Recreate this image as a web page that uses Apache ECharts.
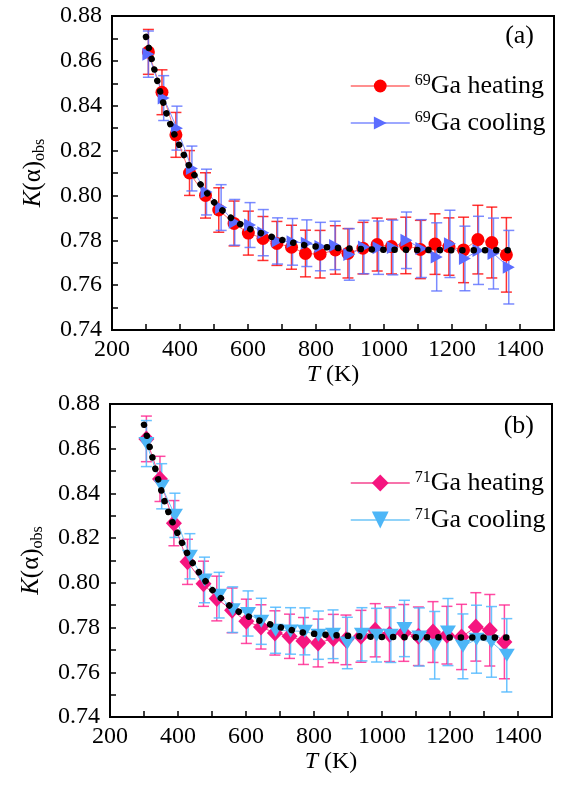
<!DOCTYPE html>
<html>
<head>
<meta charset="utf-8">
<title>K(alpha) obs vs T</title>
<script src="https://cdn.jsdelivr.net/npm/echarts@6/dist/echarts.min.js"></script>
<style>
  html, body { margin: 0; padding: 0; background: #fff; }
  #chart { width: 564px; height: 788px; }
</style>
</head>
<body>
<div id="chart"></div>
<script>
  // temperatures (K) of the measured points
  const tempHeat = [307, 347, 388, 428, 475, 514, 559, 601, 644, 685, 728, 769, 812, 857, 894, 938, 980, 1022, 1064, 1107, 1150, 1191, 1234, 1276, 1317, 1360];
  const tempCool = [307, 352, 391, 435, 478, 521, 561, 606, 645, 687, 731, 773, 813, 856, 898, 941, 984, 1026, 1066, 1110, 1155, 1194, 1238, 1278, 1322, 1367];

  // (a) 69Ga
  const heat69 = [0.864, 0.846, 0.827, 0.810, 0.800, 0.7935, 0.7875, 0.7832, 0.7808, 0.7786, 0.7769, 0.7741, 0.7738, 0.7757, 0.7742, 0.7765, 0.7781, 0.7772, 0.7777, 0.7759, 0.7783, 0.7772, 0.7757, 0.7803, 0.779, 0.7735];
  const heatErr69 = [0.010, 0.010, 0.010, 0.010, 0.0101, 0.0099, 0.010, 0.0098, 0.0098, 0.0098, 0.0098, 0.0104, 0.0106, 0.0108, 0.011, 0.0115, 0.0118, 0.0122, 0.0126, 0.013, 0.0135, 0.0128, 0.0146, 0.0153, 0.0158, 0.0166];
  const cool69 = [0.863, 0.8434, 0.830, 0.812, 0.8015, 0.7946, 0.788, 0.7868, 0.7834, 0.7797, 0.7793, 0.7787, 0.7772, 0.7777, 0.7737, 0.777, 0.7767, 0.7768, 0.780, 0.7763, 0.7726, 0.7784, 0.7719, 0.7755, 0.7741, 0.768];
  const coolErr69 = [0.0103, 0.010, 0.0098, 0.010, 0.0102, 0.0102, 0.0102, 0.010, 0.0103, 0.0103, 0.0104, 0.0104, 0.0108, 0.0108, 0.0115, 0.0119, 0.0119, 0.0122, 0.0126, 0.0129, 0.0152, 0.015, 0.0144, 0.0152, 0.0158, 0.0164];

  // (b) 71Ga
  const heat71 = [0.8644, 0.8465, 0.8267, 0.8094, 0.7996, 0.793, 0.7877, 0.7828, 0.7803, 0.7776, 0.7761, 0.774, 0.7731, 0.7751, 0.7745, 0.7761, 0.7788, 0.777, 0.7776, 0.7761, 0.778, 0.7766, 0.7758, 0.7803, 0.7788, 0.7736];
  const heatErr71 = [0.0102, 0.0101, 0.0101, 0.0101, 0.0101, 0.010, 0.010, 0.0099, 0.0099, 0.0099, 0.0099, 0.0105, 0.0107, 0.0108, 0.0111, 0.0116, 0.0119, 0.0122, 0.0127, 0.0131, 0.0136, 0.0129, 0.0146, 0.0153, 0.016, 0.0165];
  const cool71 = [0.8623, 0.8432, 0.8302, 0.8119, 0.8013, 0.7945, 0.788, 0.7863, 0.7828, 0.7788, 0.7785, 0.7783, 0.7766, 0.777, 0.7731, 0.777, 0.7766, 0.7766, 0.7796, 0.7758, 0.7721, 0.778, 0.7716, 0.7748, 0.7736, 0.7676];
  const coolErr71 = [0.0103, 0.0101, 0.0099, 0.0101, 0.0102, 0.0102, 0.0102, 0.0101, 0.0103, 0.0103, 0.0104, 0.0105, 0.0108, 0.0109, 0.0115, 0.0119, 0.012, 0.0122, 0.0126, 0.013, 0.0151, 0.015, 0.0145, 0.0152, 0.0158, 0.0164];

  // model curve (black dots), same in both panels
  const modelT = [300, 320, 340, 360, 380, 400, 425, 450, 475, 500, 530, 560, 590, 620, 650, 680, 720, 760, 800, 850, 900, 950, 1000, 1100, 1200, 1300, 1380];
  const modelK = [0.8707, 0.8589, 0.8472, 0.8367, 0.8285, 0.8218, 0.8138, 0.8072, 0.802, 0.797, 0.7926, 0.7888, 0.7862, 0.7841, 0.7826, 0.781, 0.7794, 0.778, 0.7772, 0.7767, 0.7763, 0.776, 0.7758, 0.7757, 0.7756, 0.7756, 0.7756];

  const xTicks = [200, 400, 600, 800, 1000, 1200, 1400];

  const FONT = '"Liberation Serif", "Times New Roman", serif';
  const chart = echarts.init(document.getElementById('chart'));

  function pairs(xs, ys) {
    return xs.map(function (x, i) { return [x, ys[i]]; });
  }
  function errData(xs, ys, es) {
    return xs.map(function (x, i) { return [x, ys[i] - es[i], ys[i] + es[i]]; });
  }

  // vertical error bar with caps
  function errSeries(idx, xs, ys, es, color) {
    return {
      type: 'custom',
      xAxisIndex: idx,
      yAxisIndex: idx,
      silent: true,
      z: 1,
      clip: true,
      data: errData(xs, ys, es),
      encode: { x: 0, y: [1, 2] },
      renderItem: function (params, api) {
        const top = api.coord([api.value(0), api.value(2)]);
        const bot = api.coord([api.value(0), api.value(1)]);
        const w = 5.5;
        const st = { stroke: color, lineWidth: 1.5 };
        return {
          type: 'group',
          children: [
            { type: 'line', shape: { x1: top[0], y1: top[1], x2: bot[0], y2: bot[1] }, style: st },
            { type: 'line', shape: { x1: top[0] - w, y1: top[1], x2: top[0] + w, y2: top[1] }, style: st },
            { type: 'line', shape: { x1: bot[0] - w, y1: bot[1], x2: bot[0] + w, y2: bot[1] }, style: st }
          ]
        };
      }
    };
  }

  function markSeries(idx, name, xs, ys, color, lineColor, symbol, size, rotate) {
    return {
      type: 'line',
      name: name,
      xAxisIndex: idx,
      yAxisIndex: idx,
      z: 3,
      data: pairs(xs, ys),
      symbol: symbol,
      symbolSize: size,
      symbolRotate: rotate,
      showAllSymbol: true,
      itemStyle: { color: color, opacity: 1 },
      lineStyle: { color: lineColor, width: 1 },
      emphasis: { disabled: true }
    };
  }

  function modelSeries(idx) {
    return {
      type: 'line',
      name: 'model',
      xAxisIndex: idx,
      yAxisIndex: idx,
      z: 5,
      silent: true,
      smooth: 0.3,
      showSymbol: false,
      data: pairs(modelT, modelK),
      lineStyle: { color: '#000', width: 6.5, type: [0.1, 11.2], cap: 'round' }
    };
  }

  function xAxis(idx) {
    return {
      type: 'value',
      gridIndex: idx,
      min: 200,
      max: 1500,
      interval: 100,
      name: '{i|T} (K)',
      nameLocation: 'middle',
      nameGap: 27,
      nameTextStyle: {
        color: '#000', fontFamily: FONT, fontSize: 24,
        rich: { i: { fontStyle: 'italic', fontFamily: FONT, fontSize: 24, color: '#000' } }
      },
      axisLine: { lineStyle: { color: '#000', width: 2 } },
      axisTick: { inside: true, length: 6, lineStyle: { color: '#000', width: 1.5 } },
      axisLabel: {
        color: '#000', fontFamily: FONT, fontSize: 24, margin: 8,
        formatter: function (v) { return xTicks.indexOf(v) >= 0 ? String(v) : ''; }
      },
      splitLine: { show: false }
    };
  }

  function yAxis(idx) {
    return {
      type: 'value',
      gridIndex: idx,
      min: 0.74,
      max: 0.88,
      interval: 0.01,
      name: '{i|K}(α){s|obs}',
      nameLocation: 'middle',
      nameRotate: 90,
      nameGap: 64,
      nameTextStyle: {
        color: '#000', fontFamily: FONT, fontSize: 25, lineHeight: 30,
        rich: {
          i: { fontStyle: 'italic', fontFamily: FONT, fontSize: 25, lineHeight: 30, color: '#000' },
          s: { fontFamily: FONT, fontSize: 16, lineHeight: 16, verticalAlign: 'bottom', color: '#000' }
        }
      },
      axisLine: { lineStyle: { color: '#000', width: 2 } },
      axisTick: { inside: true, length: 6, lineStyle: { color: '#000', width: 1.5 } },
      axisLabel: {
        color: '#000', fontFamily: FONT, fontSize: 24, margin: 10,
        formatter: function (v) { return Math.round(v * 100) % 2 === 0 ? v.toFixed(2) : ''; }
      },
      splitLine: { show: false }
    };
  }

  function legend(names, top, itemHeight) {
    return {
      data: names,
      orient: 'vertical',
      left: 350,
      top: top,
      padding: 0,
      itemWidth: 59,
      itemHeight: itemHeight,
      itemGap: 11,
      selectedMode: false,
      lineStyle: { width: 1.5 },
      formatter: function (name) {
        return '{sup|' + name.slice(0, 2) + '}' + name.slice(2);
      },
      textStyle: {
        color: '#000', fontFamily: FONT, fontSize: 26, lineHeight: 26,
        rich: {
          sup: { fontFamily: FONT, fontSize: 16, lineHeight: 15, verticalAlign: 'top', color: '#000' }
        }
      }
    };
  }

  const option = {
    animation: false,
    backgroundColor: '#fff',
    grid: [
      { left: 112, top: 16, width: 442, height: 314, show: true, borderColor: '#000', borderWidth: 2 },
      { left: 110, top: 404, width: 442, height: 313, show: true, borderColor: '#000', borderWidth: 2 }
    ],
    xAxis: [xAxis(0), xAxis(1)],
    yAxis: [yAxis(0), yAxis(1)],
    legend: [
      legend(['69Ga heating', '69Ga cooling'], 73, 16),
      legend(['71Ga heating', '71Ga cooling'], 470, 21)
    ],
    graphic: [
      { type: 'text', right: 30, top: 23, style: { text: '(a)', font: '26px "Liberation Serif"', fill: '#000' } },
      { type: 'text', right: 30, top: 413, style: { text: '(b)', font: '26px "Liberation Serif"', fill: '#000' } }
    ],
    series: [
      errSeries(0, tempHeat, heat69, heatErr69, 'rgba(255,0,0,0.8)'),
      errSeries(0, tempCool, cool69, coolErr69, 'rgba(90,110,255,0.8)'),
      markSeries(0, '69Ga heating', tempHeat, heat69, '#ff0000', '#ff6a6a', 'circle', 13, 0),
      markSeries(0, '69Ga cooling', tempCool, cool69, '#5b6cff', '#7d8bff', 'triangle', [13, 12], -90),
      modelSeries(0),

      errSeries(1, tempHeat, heat71, heatErr71, 'rgba(255,30,140,0.8)'),
      errSeries(1, tempCool, cool71, coolErr71, 'rgba(80,185,255,0.85)'),
      markSeries(1, '71Ga heating', tempHeat, heat71, '#f5157f', '#f5458f', 'diamond', [16, 17], 0),
      markSeries(1, '71Ga cooling', tempCool, cool71, '#4db6f7', '#6cc4f7', 'triangle', [16, 13], 180),
      modelSeries(1)
    ]
  };

  chart.setOption(option);
</script>
</body>
</html>
